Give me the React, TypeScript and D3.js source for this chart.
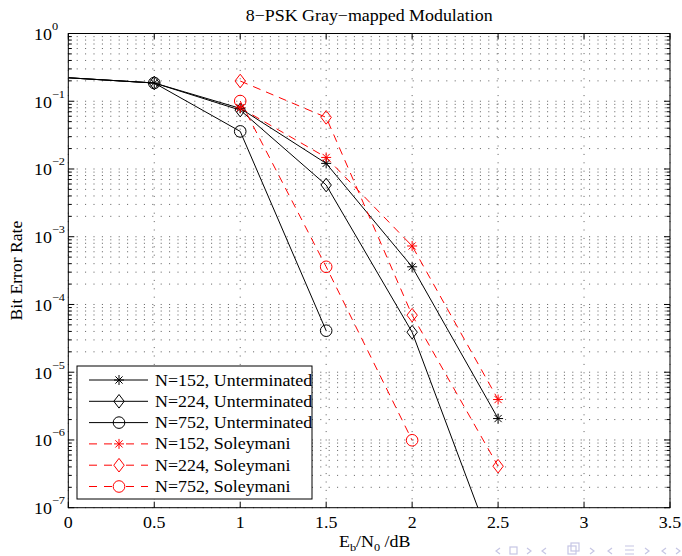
import React from "react";
import * as d3 from "d3";

const xTicks = [0, 0.5, 1, 1.5, 2, 2.5, 3, 3.5];
const xTickLabels = ["0", "0.5", "1", "1.5", "2", "2.5", "3", "3.5"];
const yExponents = [0, -1, -2, -3, -4, -5, -6, -7];

const xUnterm = [0, 0.5, 1, 1.5, 2, 2.5];
const unterm152 = [0.222, 0.186, 0.0785, 0.0121, 3.6e-4, 2.07e-6];
const unterm224 = [0.222, 0.186, 0.074, 5.8e-3, 3.9e-5, 1.6e-8];
const xUnterm752 = [0, 0.5, 1, 1.5];
const unterm752 = [0.222, 0.186, 0.0359, 4.1e-5];

const xSol = [1, 1.5, 2, 2.5];
const sol152 = [0.08, 0.0148, 7.3e-4, 3.95e-6];
const sol224 = [0.199, 0.0578, 6.95e-5, 4.1e-7];
const xSol752 = [1, 1.5, 2];
const sol752 = [0.1007, 3.6e-4, 9.9e-7];

const seriesNames = [
  "N=152, Unterminated",
  "N=224, Unterminated",
  "N=752, Unterminated",
  "N=152, Soleymani",
  "N=224, Soleymani",
  "N=752, Soleymani",
];

const titleText = "8\u2212PSK Gray\u2212mapped Modulation";
const yLabelText = "Bit Error Rate";

type Marker = "star" | "diamond" | "circle";

const series = [
  { name: seriesNames[0], xs: xUnterm, ys: unterm152, color: "#000", dashed: false, marker: "star" as Marker },
  { name: seriesNames[1], xs: xUnterm, ys: unterm224, color: "#000", dashed: false, marker: "diamond" as Marker },
  { name: seriesNames[2], xs: xUnterm752, ys: unterm752, color: "#000", dashed: false, marker: "circle" as Marker },
  { name: seriesNames[3], xs: xSol, ys: sol152, color: "#ff0000", dashed: true, marker: "star" as Marker },
  { name: seriesNames[4], xs: xSol, ys: sol224, color: "#ff0000", dashed: true, marker: "diamond" as Marker },
  { name: seriesNames[5], xs: xSol752, ys: sol752, color: "#ff0000", dashed: true, marker: "circle" as Marker },
];

const W = 682;
const H = 556;
const L = 68.3, R = 670, T = 33.5, B = 507.7;
const FONT = "'Liberation Serif', 'DejaVu Serif', serif";
const SX = 1.12;
const DASH = "8,6";

function MarkerShape({ type, x, y, color }: { type: Marker; x: number; y: number; color: string }) {
  if (type === "star") {
    const s = 5, k = 3.6;
    return (
      <path
        d={`M${x - s},${y}H${x + s}M${x},${y - s}V${y + s}M${x - k},${y - k}L${x + k},${y + k}M${x - k},${y + k}L${x + k},${y - k}`}
        stroke={color}
        strokeWidth={1}
        fill="none"
      />
    );
  }
  if (type === "diamond") {
    const w = 5.2, h = 6.8;
    return (
      <path
        d={`M${x},${y - h}L${x + w},${y}L${x},${y + h}L${x - w},${y}Z`}
        stroke={color}
        strokeWidth={1}
        fill="none"
      />
    );
  }
  return <circle cx={x} cy={y} r={5.8} stroke={color} strokeWidth={1} fill="none" />;
}

function SText({
  x,
  y,
  size,
  anchor,
  children,
}: {
  x: number;
  y: number;
  size: number;
  anchor?: "start" | "middle" | "end";
  children: React.ReactNode;
}) {
  return (
    <text transform={`translate(${x},${y}) scale(${SX},1)`} fontSize={size} textAnchor={anchor || "start"} fill="#000">
      {children}
    </text>
  );
}

export default function App() {
  const x = d3.scaleLinear().domain([0, 3.5]).range([L, R]);
  const y = d3.scaleLog().domain([1e-7, 1]).range([B, T]);

  const minorY: number[] = [];
  for (let e = -7; e < 0; e++) {
    for (let m = 2; m <= 9; m++) minorY.push(m * Math.pow(10, e));
  }
  const majorY = yExponents.map((e) => Math.pow(10, e));

  const lineGen = d3
    .line<[number, number]>()
    .x((d) => x(d[0]))
    .y((d) => y(d[1]));

  const gridDash = "1,7.4";
  const legendX0 = 77, legendY0 = 366, legendW = 235, legendH = 133;
  const rowH = 21.3;

  return (
    <svg
      width={W}
      height={H}
      style={{ position: "absolute", left: 0, top: 0, background: "#fff" }}
      fontFamily={FONT}
    >
      <defs>
        <clipPath id="plotClip">
          <rect x={L} y={T} width={R - L} height={B - T} />
        </clipPath>
      </defs>
      <rect x={0} y={0} width={W} height={H} fill="#fff" />

      {/* grid */}
      <g stroke="#000" strokeWidth={0.8} strokeDasharray={gridDash} opacity={0.8}>
        {[...majorY, ...minorY].map((v, i) => (
          <line key={"gy" + i} x1={L} x2={R} y1={y(v)} y2={y(v)} />
        ))}
        {xTicks.map((t, i) => (
          <line key={"gx" + i} x1={x(t)} x2={x(t)} y1={B} y2={T} />
        ))}
      </g>

      {/* series lines */}
      <g clipPath="url(#plotClip)">
        {series.map((s, i) => (
          <path
            key={"l" + i}
            d={lineGen(s.xs.map((v, j) => [v, s.ys[j]] as [number, number])) || ""}
            fill="none"
            stroke={s.color}
            strokeWidth={1}
            strokeDasharray={s.dashed ? DASH : undefined}
          />
        ))}
      </g>
      {/* markers */}
      {series.map((s, i) => (
        <g key={"m" + i}>
          {s.xs.map((v, j) =>
            v > 0 && s.ys[j] >= 1e-7 ? (
              <MarkerShape key={j} type={s.marker} x={x(v)} y={y(s.ys[j])} color={s.color} />
            ) : null
          )}
        </g>
      ))}

      {/* axes box */}
      <rect x={L} y={T} width={R - L} height={B - T} fill="none" stroke="#000" strokeWidth={1} />
      {/* ticks */}
      <g stroke="#000" strokeWidth={1}>
        {xTicks.map((t, i) => (
          <g key={"xt" + i}>
            <line x1={x(t)} x2={x(t)} y1={B} y2={B - 6} />
            <line x1={x(t)} x2={x(t)} y1={T} y2={T + 6} />
          </g>
        ))}
        {majorY.map((v, i) => (
          <g key={"yt" + i}>
            <line x1={L} x2={L + 6} y1={y(v)} y2={y(v)} />
            <line x1={R} x2={R - 6} y1={y(v)} y2={y(v)} />
          </g>
        ))}
        {minorY.map((v, i) => (
          <g key={"ymt" + i}>
            <line x1={L} x2={L + 3.5} y1={y(v)} y2={y(v)} />
            <line x1={R} x2={R - 3.5} y1={y(v)} y2={y(v)} />
          </g>
        ))}
      </g>

      {/* tick labels */}
      {xTicks.map((t, i) => (
        <SText key={"xl" + i} x={x(t)} y={528} size={16} anchor="middle">
          {xTickLabels[i]}
        </SText>
      ))}
      {yExponents.map((e, i) => (
        <SText key={"yl" + i} x={34} y={y(Math.pow(10, e)) + 6.5} size={16}>
          10
          <tspan dy={-10} fontSize={11}>
            {e === 0 ? "0" : "\u2212" + Math.abs(e)}
          </tspan>
        </SText>
      ))}

      {/* title & labels */}
      <SText x={(L + R) / 2} y={21} size={16} anchor="middle">
        {titleText}
      </SText>
      <text
        transform={`translate(21.7, ${(T + B) / 2}) rotate(-90) scale(1.1,1.1)`}
        textAnchor="middle"
        fontSize={16}
        fill="#000"
      >
        {yLabelText}
      </text>
      <SText x={339} y={546.5} size={16}>
        E<tspan dy={4} fontSize={11}>b</tspan>
        <tspan dy={-4}>/N</tspan>
        <tspan dy={4} fontSize={11}>0</tspan>
        <tspan dy={-4}> /dB</tspan>
      </SText>

      {/* legend */}
      <rect x={legendX0} y={legendY0} width={legendW} height={legendH} fill="#fff" stroke="#000" strokeWidth={1} />
      {series.map((s, i) => {
        const cy = 380 + i * rowH;
        return (
          <g key={"lg" + i}>
            {s.dashed ? (
              <g stroke={s.color} strokeWidth={1}>
                <line x1={89} x2={97} y1={cy} y2={cy} />
                <line x1={104} x2={112} y1={cy} y2={cy} />
                <line x1={126} x2={134} y1={cy} y2={cy} />
                <line x1={141} x2={148} y1={cy} y2={cy} />
              </g>
            ) : (
              <line x1={89} x2={148} y1={cy} y2={cy} stroke={s.color} strokeWidth={1} />
            )}
            <MarkerShape type={s.marker} x={119} y={cy} color={s.color} />
            <SText x={155} y={cy + 5.5} size={16}>
              {s.name}
            </SText>
          </g>
        );
      })}

      {/* faint navigation symbols */}
      <g fill="none" stroke="#c6c6e4" strokeWidth={1.2}>
        <path d="M500,548 l-4,3 l4,3" />
        <rect x={510} y={547} width={7} height={7} />
        <path d="M527,548 l4,3 l-4,3" />
        <path d="M546,548 l-4,3 l4,3" />
        <rect x={568} y={546} width={8} height={8} />
        <rect x={571} y={543} width={8} height={8} />
        <path d="M590,548 l4,3 l-4,3" />
        <path d="M612,548 l-4,3 l4,3" />
        <path d="M625,546 h9 M625,550 h9 M625,554 h9" />
        <path d="M645,548 l4,3 l-4,3" />
        <path d="M666,548 l-4,3 l4,3" />
        <path d="M676,548 l4,3 l-4,3" />
      </g>
    </svg>
  );
}
